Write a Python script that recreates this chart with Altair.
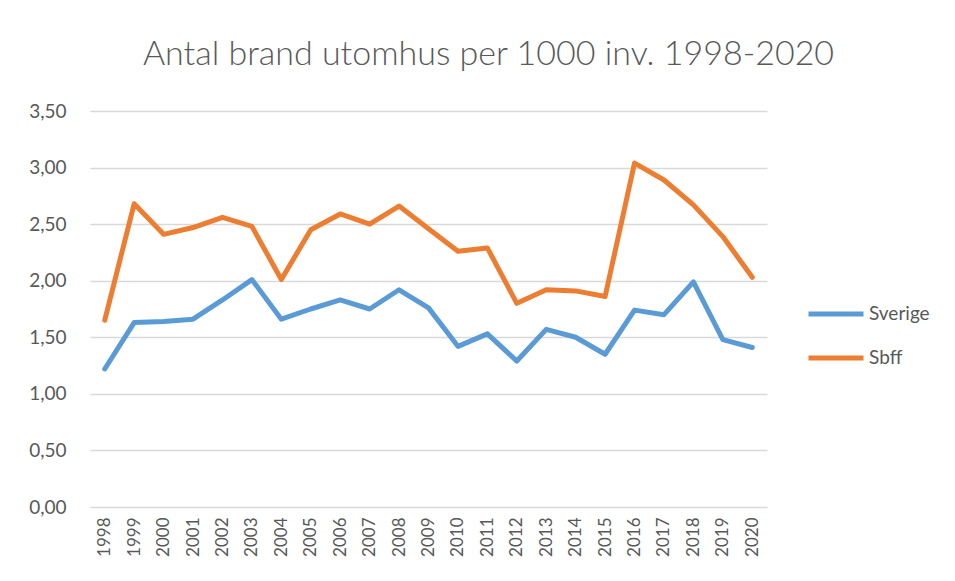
import altair as alt
import pandas as pd

years = [str(y) for y in range(1998, 2021)]
sverige = [1.22, 1.63, 1.64, 1.66, 1.83, 2.01, 1.66, 1.75, 1.83, 1.75, 1.92, 1.76,
           1.42, 1.53, 1.29, 1.57, 1.50, 1.35, 1.74, 1.70, 1.99, 1.48, 1.41]
sbff = [1.65, 2.68, 2.41, 2.47, 2.56, 2.48, 2.01, 2.45, 2.59, 2.50, 2.66, 2.46,
        2.26, 2.29, 1.80, 1.92, 1.91, 1.86, 3.04, 2.89, 2.67, 2.39, 2.03]
series = ["Sverige", "Sbff"]
colors = ["#5B9BD5", "#ED7D31"]

df = pd.DataFrame({
    "year": years * 2,
    "value": sverige + sbff,
    "series": [series[0]] * len(years) + [series[1]] * len(years),
})

FONT = "Lato"
GREY = "#595959"

chart = alt.Chart(df).mark_line(strokeWidth=5, strokeCap="round", strokeJoin="round").encode(
    x=alt.X("year:O", sort=years, scale=alt.Scale(type="point", padding=0.5),
            axis=alt.Axis(title=None, labelAngle=270, labelFontSize=17, labelColor=GREY,
                          labelFont=FONT, ticks=False, domain=False, labelPadding=10,
                          grid=False, labelBaseline="middle", labelAlign="right")),
    y=alt.Y("value:Q", scale=alt.Scale(domain=[0, 3.5], nice=False),
            axis=alt.Axis(title=None, values=[0, 0.5, 1, 1.5, 2, 2.5, 3, 3.5],
                          labelExpr="replace(format(datum.value, '.2f'), '.', ',')",
                          labelFontSize=19, labelColor=GREY, labelFont=FONT,
                          ticks=False, domain=False, labelPadding=24,
                          gridColor="#D9D9D9", gridWidth=1.5)),
    color=alt.Color("series:N", sort=series,
                    scale=alt.Scale(domain=series, range=colors),
                    legend=alt.Legend(title=None, orient="none", legendX=716, legendY=173,
                                      symbolType="stroke", symbolSize=3025,
                                      symbolStrokeWidth=5, labelFontSize=19,
                                      labelColor=GREY, labelFont=FONT, rowPadding=4,
                                      labelOffset=3)),
).properties(
    width=677,
    height=396,
    background="white",
    title=alt.TitleParams("Antal brand utomhus per 1000 inv. 1998-2020", fontSize=34,
                          font=FONT, fontWeight=300, color=GREY, anchor="middle",
                          dx=60, offset=30),
    padding={"left": 82, "top": 103, "right": 180, "bottom": 60},
    autosize=alt.AutoSizeParams(type="none"),
).configure_view(stroke=None)

chart.save("out.html", embed_options={"renderer": "svg", "actions": False})
